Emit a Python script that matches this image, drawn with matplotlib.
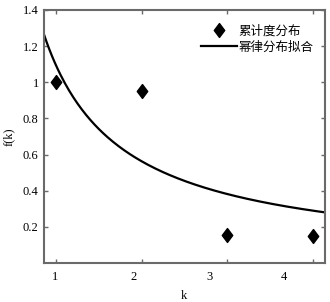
import matplotlib
matplotlib.use("Agg")
import matplotlib.pyplot as plt
import numpy as np
from matplotlib.lines import Line2D
from matplotlib.path import Path

# ── data ─────────────────────────────────────────────────────────
k_vals = [1, 2, 3, 4]
f_vals = [1.00, 0.95, 0.155, 0.15]

# power-law fit f(k) = a * k^-b
fit_a = 1.093
fit_b = 0.958

x_ticks = [1, 2, 3, 4]
x_tick_labels = ["1", "2", "3", "4"]
y_ticks = [0.2, 0.4, 0.6, 0.8, 1.0, 1.2, 1.4]
y_tick_labels = ["0.2", "0.4", "0.6", "0.8", "1", "1.2", "1.4"]

legend_labels = ["累计度分布", "幂律分布拟合"]

# label positions are drawn shifted from the tick marks in the original
label_pos = [0.99, 1.90, 2.79, 3.66]

SERIF = ["Liberation Serif", "Noto Sans CJK SC"]
SPINE = "#6a6a6a"

# diamond a bit wider than matplotlib's 'd'
DIAMOND = Path([(0, 1), (0.75, 0), (0, -1), (-0.75, 0), (0, 1)],
               [Path.MOVETO, Path.LINETO, Path.LINETO, Path.LINETO, Path.CLOSEPOLY])

fig = plt.figure(figsize=(3.30, 3.02), dpi=100)
ax = fig.add_axes([0.132, 0.129, 0.853, 0.838])

k_fit = np.linspace(0.854, 4.14, 200)
ax.plot(k_fit, fit_a * k_fit ** (-fit_b), color="black", lw=1.6)
ax.plot(k_vals, f_vals, linestyle="none", marker=DIAMOND, ms=10,
        color="black")

ax.set_xlim(0.854, 4.14)
ax.set_ylim(0, 1.4)

# tick marks at data positions, labels shifted (as in the reference)
ax.set_xticks(x_ticks)
ax.set_xticklabels([])
ax.set_xticks(label_pos, minor=True)
ax.set_xticklabels(x_tick_labels, minor=True, family=SERIF, fontsize=9)
ax.tick_params(axis="x", which="minor", length=0, pad=6)
ax.set_yticks(y_ticks)
ax.set_yticklabels(y_tick_labels, family=SERIF, fontsize=9)

ax.tick_params(which="major", direction="in", length=3, width=1,
               color=SPINE, top=True, right=True)
for s in ax.spines.values():
    s.set_color(SPINE)
    s.set_linewidth(1.5)

ax.set_xlabel("k", family=SERIF, fontsize=9, labelpad=5)
ax.set_ylabel("f(k)", family=SERIF, fontsize=9, labelpad=6)

handles = [
    Line2D([], [], linestyle="none", marker=DIAMOND, ms=10, color="black"),
    Line2D([], [], color="black", lw=1.6),
]
ax.legend(handles, legend_labels, loc="upper right",
          bbox_to_anchor=(1.0, 0.984), frameon=False,
          prop={"family": SERIF, "size": 9},
          handlelength=2.9, handletextpad=0.15, labelspacing=0.3)

fig.savefig("out.png", dpi=100)
